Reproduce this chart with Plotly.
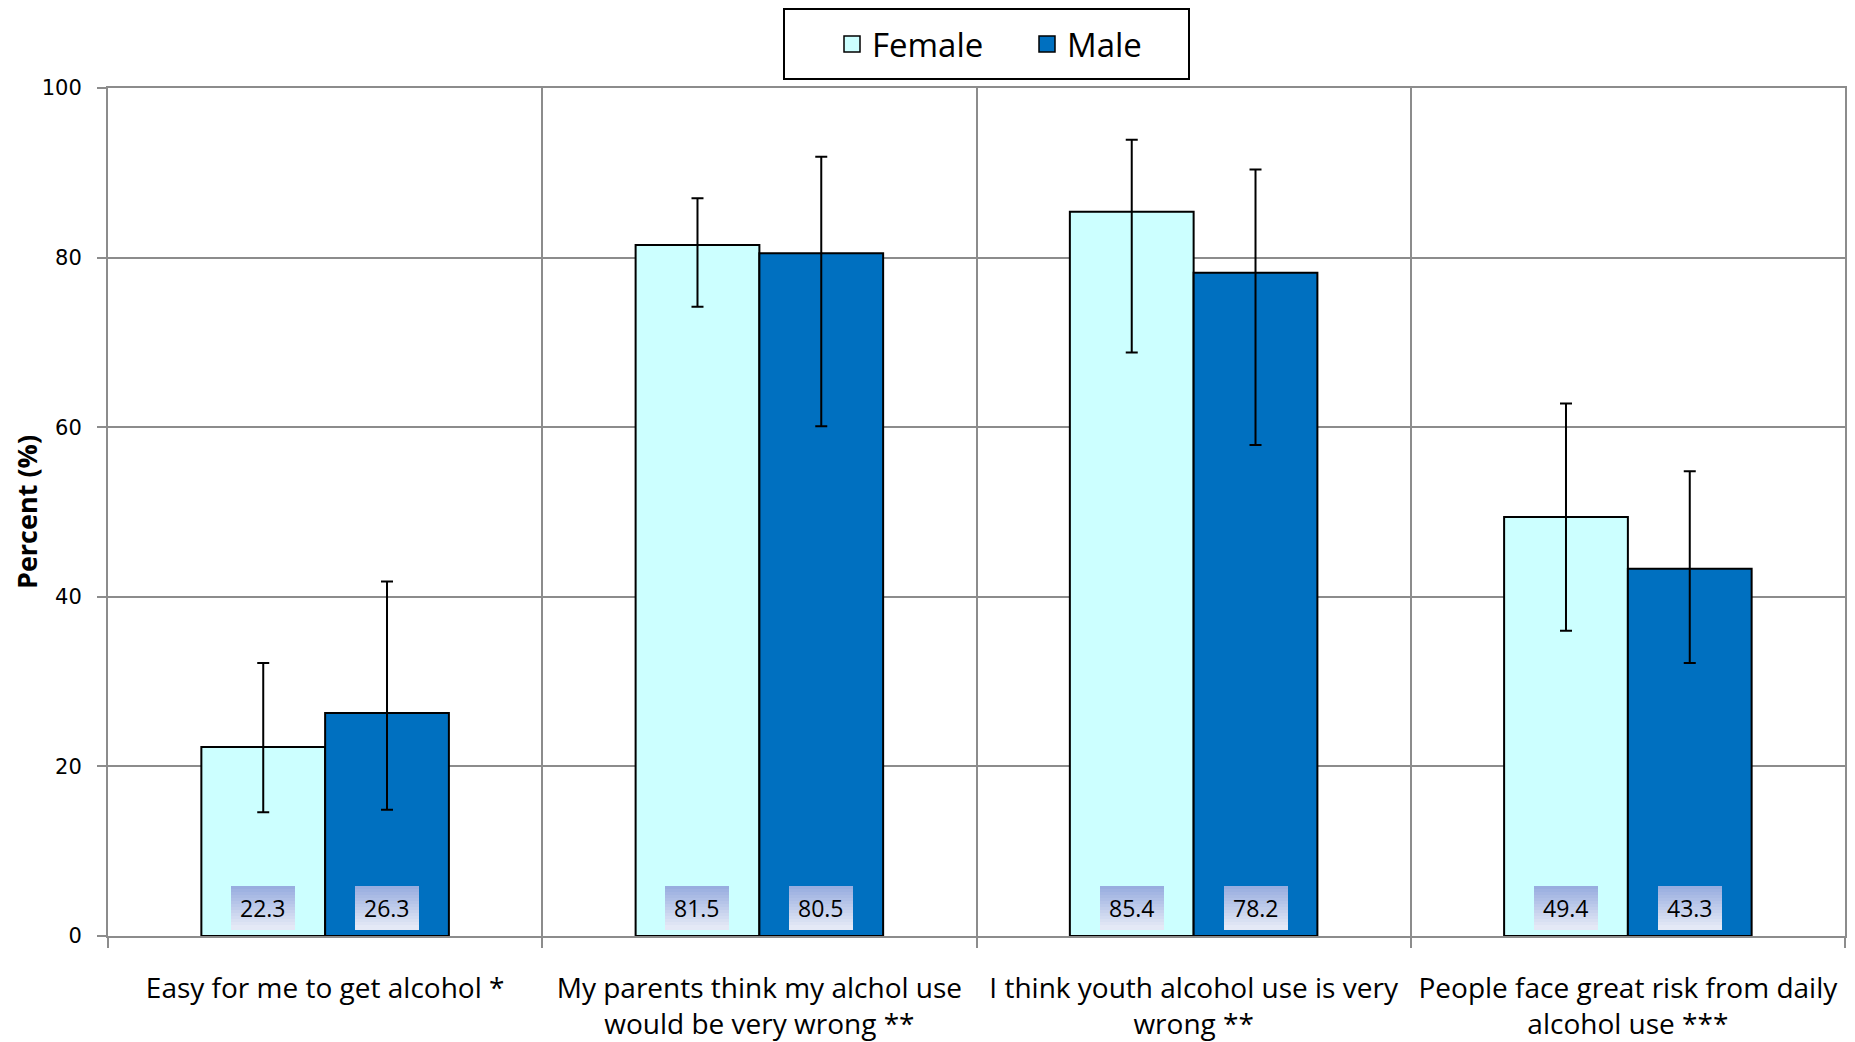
import plotly.graph_objects as go

categories = [
    "Easy for me to get alcohol *",
    "My parents think my alchol use<br>would be very wrong **",
    "I think youth alcohol use is very<br>wrong **",
    "People face great risk from daily<br>alcohol use ***",
]
female = [22.3, 81.5, 85.4, 49.4]
male = [26.3, 80.5, 78.2, 43.3]
female_upper = [32.2, 87.0, 93.9, 62.8]
female_lower = [14.6, 74.2, 68.8, 36.0]
male_upper = [41.8, 91.9, 90.4, 54.8]
male_lower = [14.9, 60.1, 57.9, 32.2]
y_ticks = [0, 20, 40, 60, 80, 100]

BARGAP = 0.43
GRID = "#8c8c8c"
FEMALE_COLOR = "#ccffff"
MALE_COLOR = "#0070c0"
LABEL_Y = 3.3

# page body has an 8px margin; figure sized to fit the window
W, H = 1847, 1034
ML, MR, MT, MB = 100, 10, 80, 106
PW, PH = W - ML - MR, H - MT - MB

fig = go.Figure()
for name, vals, up, lo, col in (
    ("Female", female, female_upper, female_lower, FEMALE_COLOR),
    ("Male", male, male_upper, male_lower, MALE_COLOR),
):
    fig.add_trace(go.Bar(
        name=name, x=categories, y=vals, showlegend=False,
        marker=dict(color=col, line=dict(color="black", width=2)),
        error_y=dict(type="data", symmetric=False,
                     array=[u - v for u, v in zip(up, vals)],
                     arrayminus=[v - l for v, l in zip(vals, lo)],
                     color="black", thickness=2, width=6),
    ))
    # legend entry with a larger square swatch
    fig.add_trace(go.Scatter(
        name=name, x=[None], y=[None], mode="markers",
        marker=dict(symbol="square", size=18, color=col,
                    line=dict(color="black", width=1.5)),
        showlegend=True,
    ))

# value label boxes with a vertical gradient
top_rgb = (0x98, 0xAD, 0xDF)
bot_rgb = (0xE4, 0xE9, 0xF6)
NB = 14
BAND = 3
half = (1 - BARGAP) / 4
for i, (f, m) in enumerate(zip(female, male)):
    for xpos, val in ((i - half, f), (i + half, m)):
        for k in range(NB):
            t = k / (NB - 1)
            c = tuple(round(a + (b - a) * t) for a, b in zip(top_rgb, bot_rgb))
            fig.add_annotation(
                x=xpos, y=LABEL_Y, xref="x", yref="y", text="&nbsp;",
                showarrow=False, bgcolor="rgb(%d,%d,%d)" % c,
                width=64, height=BAND + 2, borderpad=0, borderwidth=0,
                font=dict(size=2), xanchor="center", yanchor="middle",
                yshift=(NB - 1) / 2 * BAND - k * BAND,
            )
        fig.add_annotation(
            x=xpos, y=LABEL_Y, xref="x", yref="y", text=f"{val:.1f}",
            showarrow=False, borderpad=0, borderwidth=0,
            font=dict(family="Open Sans", size=23, color="black"),
            xanchor="center", yanchor="middle",
        )

# legend frame
fig.add_shape(
    type="rect", xref="paper", yref="paper",
    x0=(776 - ML) / PW, x1=(1181 - ML) / PW,
    y0=(MT + PH - 71) / PH, y1=(MT + PH - 1) / PH,
    line=dict(color="black", width=2), fillcolor="white", layer="above",
)

fig.update_layout(
    width=W, height=H,
    margin=dict(l=ML, r=MR, t=MT, b=MB, autoexpand=False),
    paper_bgcolor="white", plot_bgcolor="white",
    barmode="group", bargap=BARGAP, bargroupgap=0,
    font=dict(family="Open Sans", color="black"),
    legend=dict(
        orientation="h", x=(824 - ML) / PW, y=(MT + PH - 36) / PH,
        xanchor="left", yanchor="middle",
        borderwidth=0, bgcolor="rgba(0,0,0,0)",
        font=dict(family="Open Sans", size=33, color="black"),
        entrywidth=150, itemwidth=30,
    ),
    showlegend=True,
)
fig.update_xaxes(
    type="category", tickson="boundaries", showgrid=True, gridcolor=GRID, gridwidth=2,
    showline=True, linecolor=GRID, linewidth=2, mirror=True,
    ticks="outside", ticklen=10, tickcolor=GRID, tickwidth=2,
    tickfont=dict(family="Open Sans", size=28, color="black"),
    ticklabelstandoff=26,
)
fig.update_yaxes(
    range=[0, 100], tickvals=y_ticks, showgrid=True, gridcolor=GRID, gridwidth=2,
    showline=True, linecolor=GRID, linewidth=2, mirror=True,
    ticks="outside", ticklen=9, tickcolor=GRID, tickwidth=2,
    tickfont=dict(family="DejaVu Sans", size=21, color="black"),
    ticklabelstandoff=11, zeroline=False,
    title=dict(text="<b>Percent (%)</b>", standoff=6,
               font=dict(family="Open Sans", size=27, color="black")),
)

fig.write_html("out.html")
